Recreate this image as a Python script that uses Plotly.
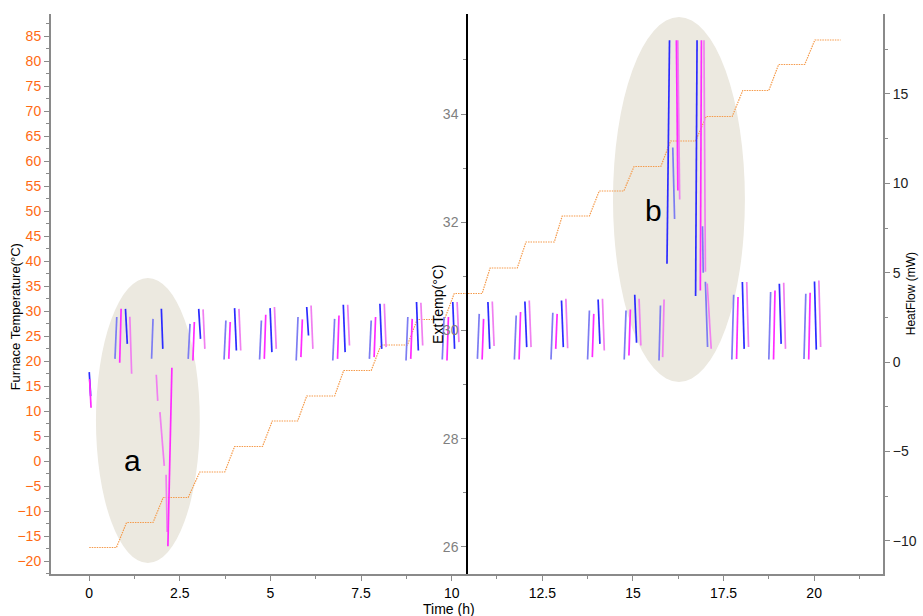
import plotly.graph_objects as go

# ---- Furnace temperature programme (left axis, °C) ----
furnace_levels = [-17.3, -12.3, -7.3, -2.2, 2.9, 8.0, 13.0, 18.1, 23.2, 28.3, 33.5,
                  38.6, 43.8, 49.0, 54.0, 58.9, 64.0, 68.9, 74.1, 79.3, 84.2]
ramp_start = [0.75, 1.76, 2.73, 3.74, 4.78, 5.75, 6.77, 7.78, 8.78, 9.80,
              10.84, 11.81, 12.83, 13.80, 14.75, 15.77, 16.73, 17.74, 18.75, 19.74]
ramp_end = [1.03, 2.04, 3.05, 4.01, 5.05, 6.00, 7.02, 8.05, 9.05, 10.07,
            11.06, 12.05, 13.05, 14.07, 15.03, 16.04, 17.02, 18.03, 19.02, 20.02]
program_end = 20.73

# ---- Heat-flow bursts at each furnace step (right axis, mW) ----
# four traces per burst: rise (A, B) then decay (C, D)
burst_t0 = [0.71, 2.73, 3.72, 4.70, 5.71, 6.72, 7.73, 8.74, 9.74, 10.71,
            11.73, 12.74, 13.75, 14.76, 17.73, 18.75, 19.72]
a_lo = [0.18, 0.18, 0.15, 0.15, 0.09, 0.09, 0.18, 0.09, 0.15, 0.18,
        0.15, 0.15, 0.15, 0.15, 0.15, 0.15, 0.18]
a_hi = [2.52, 2.14, 2.33, 2.33, 2.52, 2.42, 2.33, 2.52, 2.52, 2.70,
        2.61, 2.76, 2.89, 2.89, 3.77, 3.92, 3.82]
b_lo = [-0.04, 0.09, 0.18, 0.18, 0.28, 0.18, 0.28, 0.18, 0.09, 0.15,
        0.15, 0.74, 0.28, 0.37, 0.18, 0.15, 0.15]
b_hi = [2.98, 2.24, 2.24, 2.65, 2.39, 2.61, 2.52, 2.42, 2.52, 2.42,
        2.80, 2.70, 2.70, 2.94, 3.64, 4.01, 3.88]
c_hi = [2.98, 2.98, 3.02, 3.02, 3.08, 3.21, 3.26, 3.36, 3.36, 3.36,
        3.39, 3.45, 3.50, 3.77, 4.48, 4.38, 4.51]
c_lo = [1.02, 1.30, 0.65, 0.56, 1.49, 0.56, 0.74, 0.65, 0.74, 0.74,
        0.84, 0.84, 1.02, 1.08, 0.74, 1.02, 0.70]
d_hi = [2.54, 2.95, 2.98, 3.08, 3.17, 3.21, 3.26, 3.32, 3.36, 3.39,
        3.45, 3.54, 3.54, 3.54, 4.48, 4.44, 4.57]
d_lo = [-0.65, 0.74, 0.65, 0.74, 0.74, 0.93, 0.84, 0.93, 1.12, 0.90,
        0.84, 0.78, 0.65, 0.93, 0.84, 0.74, 0.84]
stroke_offsets = {"A": (0.0, 0.05), "B": (0.13, 0.17), "C": (0.29, 0.34), "D": (0.41, 0.46)}

# irregular bursts: start-up, event "a" and event "b"
extra_series = ["blue", "magenta",
                "paleblue", "blue", "pink", "pink", "pink", "magenta",
                "paleblue", "pink", "blue", "paleblue", "magenta", "pink",
                "blue", "paleblue", "magenta", "pink", "paleblue", "pink"]
extra_t = [(0.00, 0.04), (0.01, 0.05),
           (1.72, 1.76), (1.99, 2.03), (1.85, 1.89), (1.95, 2.07), (2.12, 2.15), (2.17, 2.28),
           (15.72, 15.76), (15.82, 15.86), (15.94, 16.01), (16.10, 16.15), (16.20, 16.24), (16.24, 16.29),
           (16.73, 16.77), (16.92, 16.94), (16.86, 16.89), (16.96, 17.00), (17.00, 17.06), (17.05, 17.16)]
extra_v = [(-0.56, -1.90), (-0.95, -2.55),
           (0.19, 2.42), (2.98, 0.74), (-0.71, -2.17), (-2.80, -5.80), (-6.30, -9.50), (-10.30, -0.32),
           (0.09, 3.17), (0.28, 3.50), (5.50, 18.0), (12.0, 8.0), (18.0, 9.6), (18.0, 9.1),
           (3.70, 18.0), (7.60, 5.00), (4.00, 18.0), (18.0, 5.05), (4.50, 0.85), (4.40, 0.75)]

COLORS = {"blue": "#2b2bff", "magenta": "#ff2bff", "paleblue": "#7c7cf2", "pink": "#f07ff0"}
STROKE_COLOR = {"A": "paleblue", "B": "magenta", "C": "blue", "D": "pink"}

ORANGE_TXT = "#ff6a13"
ORANGE_LINE = "#f59a4a"
GRAY = "#8a8a8a"
FONT = "Liberation Sans Narrow, Liberation Sans, Arial, sans-serif"

# build the step programme
fx, fy = [0.0], [furnace_levels[0]]
for i in range(len(ramp_start)):
    fx += [ramp_start[i], ramp_end[i]]
    fy += [furnace_levels[i], furnace_levels[i + 1]]
fx.append(program_end)
fy.append(furnace_levels[-1])

# gather the strokes by colour
paths = {k: ([], []) for k in COLORS}
lo_hi = {"A": (a_lo, a_hi), "B": (b_lo, b_hi), "C": (c_hi, c_lo), "D": (d_hi, d_lo)}
for i, t0 in enumerate(burst_t0):
    for key, (first, second) in lo_hi.items():
        o1, o2 = stroke_offsets[key]
        xs, ys = paths[STROKE_COLOR[key]]
        xs += [t0 + o1, t0 + o2, None]
        ys += [first[i], second[i], None]
for name, (t1, t2), (v1, v2) in zip(extra_series, extra_t, extra_v):
    xs, ys = paths[name]
    xs += [t1, t2, None]
    ys += [v1, v2, None]

fig = go.Figure()

for name in ["paleblue", "pink", "blue", "magenta"]:
    xs, ys = paths[name]
    fig.add_trace(go.Scatter(x=xs, y=ys, yaxis="y3", mode="lines",
                             line=dict(color=COLORS[name], width=1.7),
                             connectgaps=False, showlegend=False, hoverinfo="skip"))

fig.add_trace(go.Scatter(x=fx, y=fy, mode="lines", yaxis="y",
                         line=dict(color=ORANGE_LINE, width=1.2, dash="1.5px,1px"),
                         showlegend=False, hoverinfo="skip"))

# keeps the ExtTemp axis in the layout
fig.add_trace(go.Scatter(x=[None], y=[None], yaxis="y2", mode="lines",
                         showlegend=False, hoverinfo="skip"))

# highlighted events
fig.add_shape(type="circle", xref="x", yref="y", x0=0.185, x1=3.05, y0=-20.4, y1=36.6,
              fillcolor="#ece9e0", line=dict(width=0), layer="below")
fig.add_shape(type="circle", xref="x", yref="y", x0=14.45, x1=18.09, y0=15.8, y1=88.8,
              fillcolor="#ece9e0", line=dict(width=0), layer="below")
fig.add_annotation(x=1.18, y=0.2, xref="x", yref="y", text="a", showarrow=False,
                   font=dict(size=30, color="black", family="Liberation Sans, Arial"))
fig.add_annotation(x=15.58, y=50.2, xref="x", yref="y", text="b", showarrow=False,
                   font=dict(size=30, color="black", family="Liberation Sans, Arial"))

# axis titles
title_font = dict(size=13, color="black", family=FONT)
fig.add_annotation(x=-0.0433, y=0.46, xref="paper", yref="paper", text="Furnace Temperature(°C)",
                   textangle=-90, showarrow=False, font=title_font, xanchor="center", yanchor="middle")
fig.add_annotation(x=0.465, y=0.482, xref="paper", yref="paper", text="ExtTemp(°C)",
                   textangle=-90, showarrow=False, font=dict(size=14, color="black", family=FONT),
                   xanchor="center", yanchor="middle")
fig.add_annotation(x=1.034, y=0.5, xref="paper", yref="paper", text="HeatFlow (mW)",
                   textangle=-90, showarrow=False, font=dict(size=12, color="black", family=FONT),
                   xanchor="center", yanchor="middle")
fig.add_annotation(x=0.478, y=-0.062, xref="paper", yref="paper", text="Time (h)",
                   showarrow=False, font=dict(size=14, color="black", family=FONT),
                   xanchor="center", yanchor="middle")

x_ticks = [0, 2.5, 5, 7.5, 10, 12.5, 15, 17.5, 20]
x_labels = ["0", "2.5", "5", "7.5", "10", "12.5", "15", "17.5", "20"]

fig.update_layout(
    width=923, height=616,
    margin=dict(l=51, r=40, t=14, b=42, autoexpand=False),
    paper_bgcolor="white", plot_bgcolor="white",
    font=dict(family=FONT),
    xaxis=dict(range=[-1.055, 21.9], showgrid=False, zeroline=False, automargin=False,
               showline=True, linecolor=GRAY, linewidth=2,
               ticks="outside", ticklen=5, tickcolor=GRAY, tickwidth=1,
               tickvals=x_ticks, ticktext=x_labels,
               tickfont=dict(size=14, color="black", family=FONT),
               minor=dict(dtick=1.25, tick0=0, ticks="outside", ticklen=3, tickcolor=GRAY)),
    yaxis=dict(range=[-22.6, 89.4], showgrid=False, zeroline=False, automargin=False,
               showline=True, linecolor=GRAY, linewidth=2,
               ticks="outside", ticklen=5, tickcolor=GRAY, tickwidth=1,
               tick0=-20, dtick=5,
               tickfont=dict(size=14, color=ORANGE_TXT, family=FONT),
               minor=dict(dtick=2.5, tick0=0, ticks="outside", ticklen=3, tickcolor=GRAY)),
    yaxis2=dict(range=[25.5, 35.85], overlaying="y", anchor="free", position=0.5, side="left",
                automargin=False,
                showgrid=False, zeroline=False, showline=True, linecolor="black", linewidth=1.5,
                ticks="outside", ticklen=5, tickcolor=GRAY, tick0=26, dtick=2,
                tickfont=dict(size=14, color="#7f7f7f", family=FONT),
                minor=dict(dtick=1, tick0=26, ticks="outside", ticklen=3, tickcolor=GRAY)),
    yaxis3=dict(range=[-11.85, 19.47], overlaying="y", side="right", anchor="x",
                automargin=False,
                showgrid=False, zeroline=False, showline=True, linecolor=GRAY, linewidth=2,
                ticks="outside", ticklen=5, tickcolor=GRAY, tick0=-10, dtick=5,
                tickfont=dict(size=14, color="#222222", family=FONT),
                minor=dict(dtick=2.5, tick0=0, ticks="outside", ticklen=3, tickcolor=GRAY)),
)

fig.write_html("out.html")
